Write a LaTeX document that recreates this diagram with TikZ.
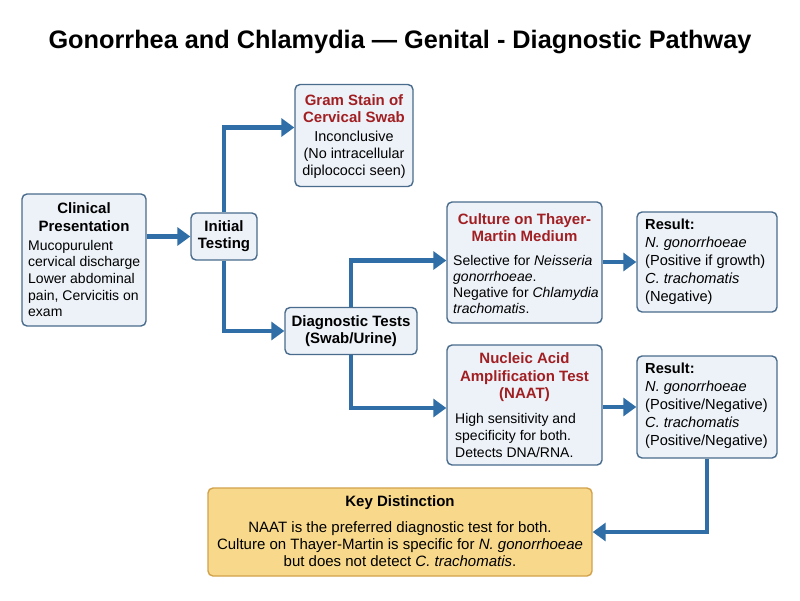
\documentclass[tikz,border=0pt]{standalone}
\usepackage{fontspec}
\setmainfont{Liberation Sans}
\usetikzlibrary{arrows.meta,positioning,calc}
\definecolor{boxfill}{HTML}{EDF2F8}
\definecolor{boxdraw}{HTML}{4A6C8C}
\definecolor{arrblue}{HTML}{2F6EA6}
\definecolor{headred}{HTML}{A11F22}
\definecolor{keyfill}{HTML}{F8D98C}
\definecolor{keydraw}{HTML}{D2A24A}
\tikzset{
  box/.style={draw=boxdraw,fill=boxfill,line width=1.4pt,rounded corners=5pt,inner sep=0pt},
  keybox/.style={draw=keydraw,fill=keyfill,line width=1.4pt,rounded corners=5pt,inner sep=0pt},
  arr/.style={draw=arrblue,line width=4.5pt,-{Triangle[length=13pt,width=18pt]}},
  hd/.style={font=\fontsize{15}{17.5}\selectfont\bfseries,align=center,inner sep=0pt},
  redhd/.style={hd,text=headred},
  body/.style={font=\fontsize{14}{16.7}\selectfont,inner sep=0pt},
}
\begin{document}
\begin{tikzpicture}[x=1pt,y=-1pt]
\useasboundingbox[fill=white] (0,0) rectangle (800,600);
\node[font=\fontsize{25.3}{28}\selectfont\bfseries] (title) at (400,42) {Gonorrhea and Chlamydia — Genital - Diagnostic Pathway};

% boxes
\node[box,minimum width=124pt,minimum height=132pt] (clin) at (84,260) {};
\node[box,minimum width=66pt,minimum height=47pt] (init) at (224,236.5) {};
\node[box,minimum width=118pt,minimum height=102pt] (gram) at (354,135.5) {};
\node[box,minimum width=132pt,minimum height=47pt] (diag) at (351,331) {};
\node[box,minimum width=155pt,minimum height=121pt] (cult) at (524.5,262.5) {};
\node[box,minimum width=155pt,minimum height=120pt] (naat) at (524.5,405) {};
\node[box,minimum width=140pt,minimum height=100pt] (res1) at (707,262) {};
\node[box,minimum width=140pt,minimum height=102pt] (res2) at (707,407) {};
\node[keybox,minimum width=384pt,minimum height=88pt] (key) at (400,532) {};

% texts
\node[hd] (clinh) at (84,217) {Clinical\\Presentation};
\node[body,align=left,anchor=west] (clinb) at (28,278.5) {Mucopurulent\\cervical discharge\\Lower abdominal\\pain, Cervicitis on\\exam};
\node[hd] (initt) at (224,236) {Initial\\Testing};
\node[redhd] (gramh) at (354,108.5) {Gram Stain of\\Cervical Swab};
\node[body,align=center,font=\fontsize{14.4}{17.2}\selectfont] (gramb) at (354,154.5) {Inconclusive\\(No intracellular\\diplococci seen)};
\node[hd] (diagt) at (351,331) {Diagnostic Tests\\(Swab/Urine)};
\node[redhd] (culth) at (524.5,227.5) {Culture on Thayer-\\Martin Medium};
\node[body,align=left,anchor=west,font=\fontsize{14}{15.8}\selectfont] (cultb) at (453,284.5) {Selective for \textit{Neisseria}\\\textit{gonorrhoeae}.\\Negative for \textit{Chlamydia}\\\textit{trachomatis}.};
\node[redhd] (naath) at (524.5,377.5) {Nucleic Acid\\Amplification Test\\(NAAT)};
\node[body,align=left,anchor=west] (naatb) at (455,435.5) {High sensitivity and\\specificity for both.\\Detects DNA/RNA.};
\node[body,align=left,anchor=west,font=\fontsize{14.6}{18}\selectfont] (res1t) at (645,262) {\textbf{Result:}\\\textit{N. gonorrhoeae}\\(Positive if growth)\\\textit{C. trachomatis}\\(Negative)};
\node[body,align=left,anchor=west,font=\fontsize{14.6}{18}\selectfont] (res2t) at (645,406) {\textbf{Result:}\\\textit{N. gonorrhoeae}\\(Positive/Negative)\\\textit{C. trachomatis}\\(Positive/Negative)};
\node[hd] (keyh) at (400,503) {Key Distinction};
\node[body,align=center,font=\fontsize{15}{17}\selectfont] (keyb) at (400,544) {NAAT is the preferred diagnostic test for both.\\Culture on Thayer-Martin is specific for \textit{N. gonorrhoeae}\\but does not detect \textit{C. trachomatis}.};

% connectors
\coordinate (gramin) at ([yshift=8pt]gram.west);
\coordinate (clinout) at (clin.east |- init.west);
\draw[arr] (clinout) -- (init.west);
\draw[arr] (init.north) |- (gramin);
\draw[arr] (init.south) |- (diag.west);
\coordinate (cultin) at ([yshift=2pt]cult.west);
\draw[arr] (diag.north) |- (cultin);
\coordinate (naatin) at ([yshift=-3pt]naat.west);
\draw[arr] (diag.south) |- (naatin);
\draw[arr] (cult.east |- res1.west) -- (res1.west);
\draw[arr] (naat.east |- res2.west) -- (res2.west);
\draw[arr] (res2.south) |- (key.east);
\end{tikzpicture}
\end{document}
